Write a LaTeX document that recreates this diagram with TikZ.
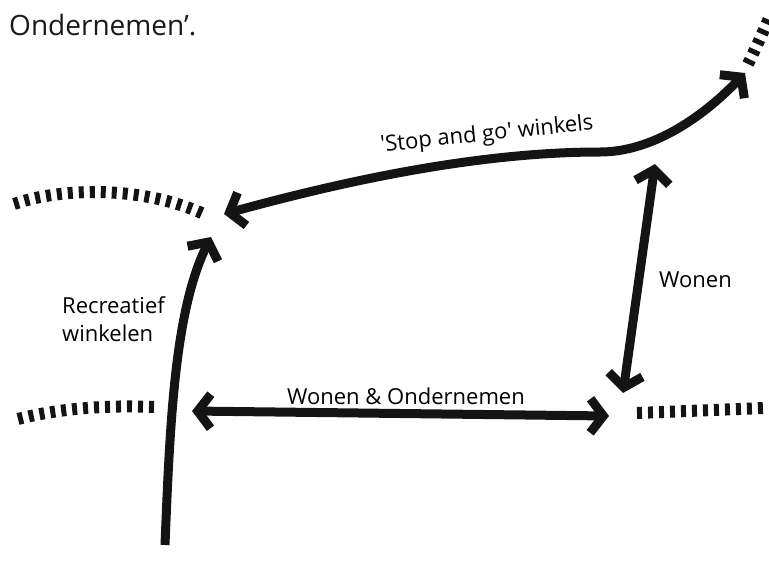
\documentclass[tikz,border=0pt]{standalone}
\usepackage{fontspec}
\setmainfont{Open Sans}
\usetikzlibrary{arrows.meta}
\tikzset{
  road/.style={line width=9pt, line join=miter, miter limit=10, draw=black!92},
  chev/.tip={Straight Barb[length=13pt,width=34pt,line join=miter]},
  stub/.style={line width=12pt, dash pattern=on 5pt off 6pt, draw=black!92},
  lbl/.style={font=\fontsize{22}{27}\selectfont, inner sep=0pt},
}
\begin{document}
\begin{tikzpicture}[x=1pt,y=-1pt]
\useasboundingbox (0,0) rectangle (769,571);
% text at top
\node[anchor=base west, inner sep=0pt, font=\fontsize{28}{32}\selectfont, text=black!90] (top) at (9,35) {Ondernemen’.};
% coordinates
\coordinate (tl) at (224,214);
\coordinate (tr) at (745,73);
\coordinate (mid) at (600,152);
\coordinate (lb) at (165,545);
\coordinate (lt) at (211,237);
\coordinate (hl) at (192,411);
\coordinate (hr) at (609,416);
\coordinate (vt) at (655,164);
\coordinate (vb) at (623,393);
% stub ends
\coordinate (s1a) at (14,204);
\coordinate (s1b) at (204,214);
\coordinate (s2a) at (18,419);
\coordinate (s2b) at (154,407);
\coordinate (s3a) at (637,413);
\coordinate (s3b) at (764,408);
\coordinate (s4a) at (748,64);
\coordinate (s4b) at (770,16);
% main roads
\draw[road, {chev}-{chev}] (tl) .. controls (330,185) and (470,152) .. (mid)
   .. controls (650,152) and (700,120) .. (tr);
\draw[road, -{chev}] (lb) .. controls (170,420) and (175,310) .. (lt);
\draw[road, {chev}-{chev}] (hl) -- (hr);
\draw[road, {chev}-{chev}] (vt) -- (vb);
% dashed stubs
\draw[stub] (s1a) .. controls (60,188) and (140,185) .. (s1b);
\draw[stub] (s2a) .. controls (60,408) and (110,405) .. (s2b);
\draw[stub] (s3a) -- (s3b);
\draw[stub] (s4a) .. controls (755,50) and (763,32) .. (s4b);
% labels
\node[lbl, rotate=6] (stop) at (487,135) {\textquotesingle Stop and go\textquotesingle{} winkels};
\node[lbl, anchor=base west] (won) at (659,287) {Wonen};
\node[lbl, anchor=base west] (rec) at (62,313) {Recreatief};
\node[lbl, anchor=base west] (wink) at (62,341) {winkelen};
\node[lbl] (wo) at (406,396) {Wonen \& Ondernemen};
\end{tikzpicture}
\end{document}
